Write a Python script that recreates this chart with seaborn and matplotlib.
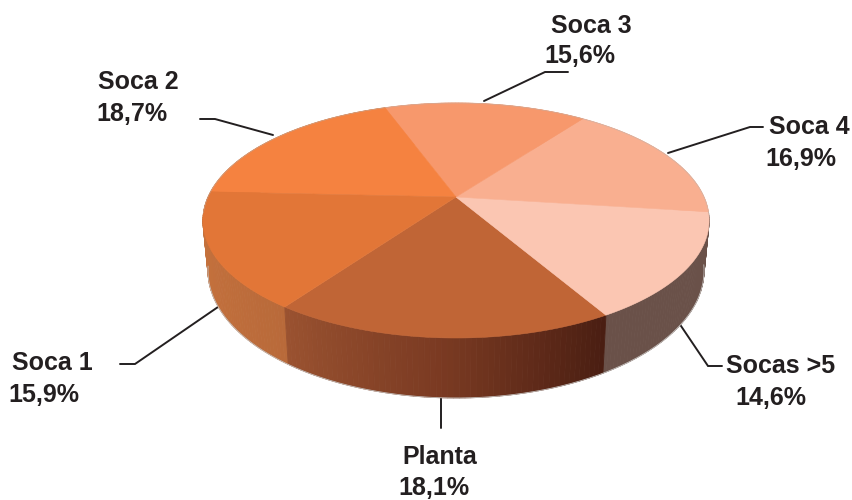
import numpy as np
import seaborn as sns
import matplotlib.pyplot as plt

# Data
categorias = ['Planta', 'Socas >5', 'Soca 4', 'Soca 3', 'Soca 2', 'Soca 1']
valores = [18.1, 14.6, 16.9, 15.6, 18.7, 15.9]
rotulos = ['18,1%', '14,6%', '16,9%', '15,6%', '18,7%', '15,9%']
cores_topo = ['#c06536', '#fbc6b2', '#f9af90', '#f7986c', '#f58240', '#e27637']
cores_lado = [
    ['#9a5230', '#7a3a22', '#4a1e12'],
    ['#6a5149', '#6a5149'],
    ['#f9af90', '#f9af90'],
    ['#f7986c', '#f7986c'],
    ['#cb753e', '#cb753e'],
    ['#cb753e', '#b96a3a'],
]

sns.set_theme(style='white')
plt.rcParams['font.family'] = ['Liberation Sans', 'DejaVu Sans']

# Pie geometry in pixels (perspective view of a disc)
CX, CY = 456, 197
A, B, K = 248, 112.8, 0.2
INICIO = -35.3


def topo(theta):
    u, v = np.sin(theta), np.cos(theta)
    w = 1 - K * v
    return CX + A * u / w, CY + B * v / w


def base(theta):
    x, y = topo(theta)
    w = 1 - K * np.cos(theta)
    return CX + (x - CX) * 0.98, y + 48 / w


fig = plt.figure(figsize=(8.52, 5), dpi=100)
ax = fig.add_axes([0, 0, 1, 1])
ax.set_xlim(0, 852)
ax.set_ylim(500, 0)
ax.axis('off')

# Angles come from the values (printed shares add up to 99,8)
fracao = np.cumsum([0] + valores) / sum(valores)
limites = np.deg2rad(INICIO + fracao * 360)

# Side walls, back to front
quads = []
for i in range(len(valores)):
    cmap = sns.blend_palette(cores_lado[i], as_cmap=True)
    ts = np.linspace(limites[i], limites[i + 1], 61)
    for j in range(60):
        t0, t1 = ts[j], ts[j + 1]
        quads.append((np.cos((t0 + t1) / 2), t0, t1, cmap(j / 59)))
quads.sort(key=lambda q: q[0])
for _, t0, t1, cor in quads:
    tt = np.array([t0, t1])
    x1, y1 = topo(tt)
    x2, y2 = base(tt[::-1])
    ax.fill(np.r_[x1, x2], np.r_[y1, y2], color=cor, lw=0.6, zorder=2)

# Wall silhouette, front part only
tb = np.linspace(limites[0], limites[-1], 360)
bx, by = base(tb)
by = np.where(np.cos(tb) > 0.15, by, np.nan)
ax.plot(bx, by, color='#c4c0bd', lw=0.6, zorder=2.5)

# Top wedges
for i in range(len(valores)):
    ts = np.linspace(limites[i], limites[i + 1], 80)
    x, y = topo(ts)
    ax.fill(np.r_[CX, x], np.r_[CY, y], color=cores_topo[i], lw=0.4, zorder=3)
tt = np.linspace(0, 2 * np.pi, 400)
x, y = topo(tt)
y = np.where(np.cos(tt) < 0.15, y, np.nan)
ax.plot(x, y, color='#b9b5b2', lw=0.5, alpha=0.6, zorder=3.5)

# Labels: text centre for name and value, then leader line
TINTA = '#231f20'
pos_nome = [(440, 457), (781, 366), (809, 127), (591, 26), (138, 82), (52, 363)]
pos_valor = [(434, 488), (771, 398), (801, 159), (580, 56), (132, 114), (44, 395)]
guias = [
    [(441, 398), (441, 428)],
    [(679, 323), (708, 366), (722, 366)],
    [(668, 153), (750, 127), (763, 127)],
    [(484, 101), (545, 72), (568, 72)],
    [(273, 135), (215, 119), (200, 119)],
    [(218, 307), (135, 364), (120, 364)],
]
for nome, rot, pn, pv, g in zip(categorias, rotulos, pos_nome, pos_valor, guias):
    ax.text(*pn, nome, ha='center', va='center', fontsize=18, fontweight='bold', color=TINTA)
    ax.text(*pv, rot, ha='center', va='center', fontsize=18, fontweight='bold', color=TINTA)
    gx, gy = zip(*g)
    ax.plot(gx, gy, color=TINTA, lw=1.4, zorder=1, solid_joinstyle='miter')

fig.savefig('out.png', dpi=100)
